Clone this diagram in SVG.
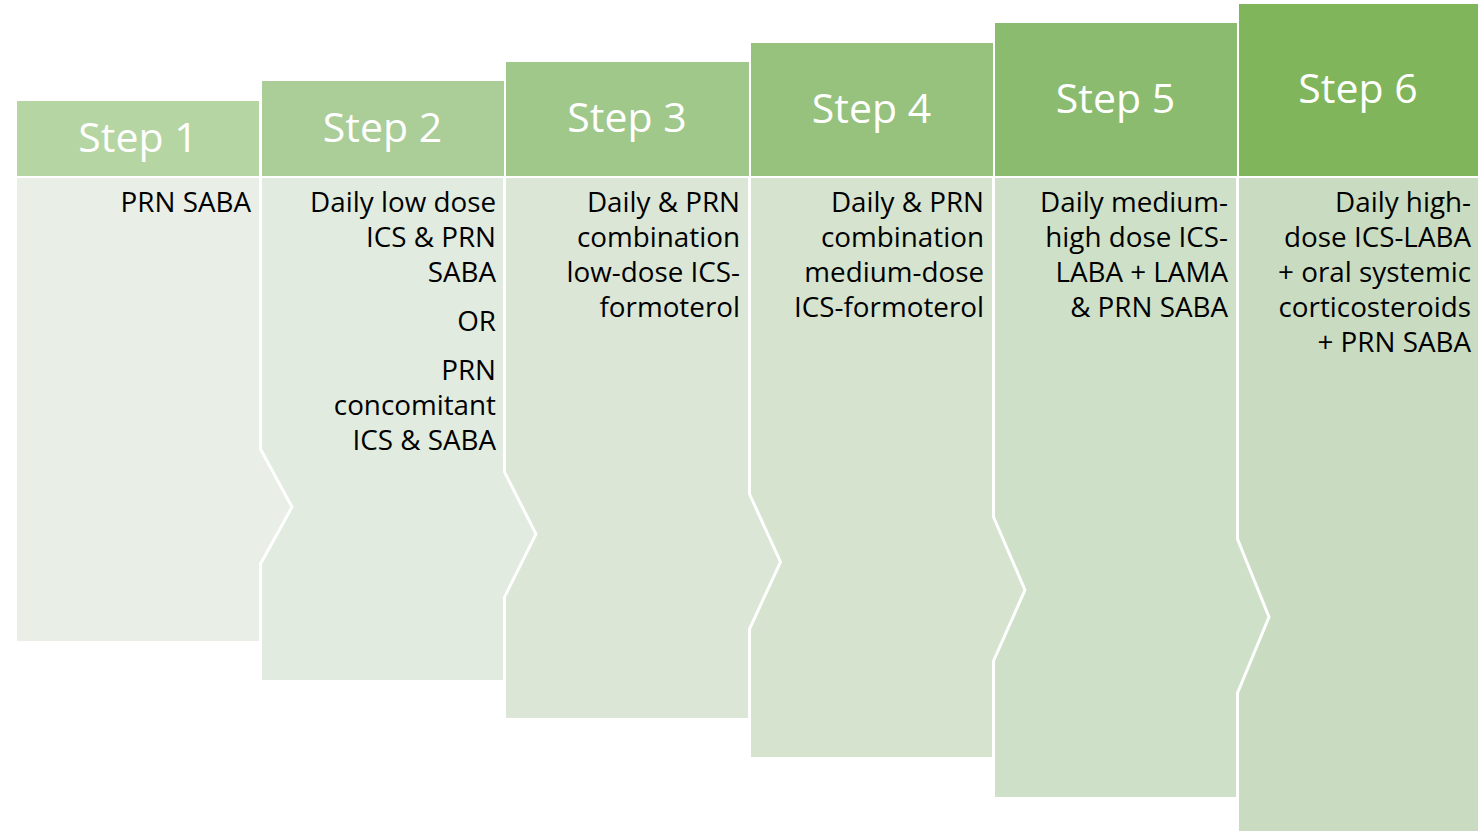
<svg xmlns="http://www.w3.org/2000/svg" width="1481" height="831" viewBox="0 0 1481 831">
<style>
.body{stroke:#ffffff;stroke-width:3;stroke-linejoin:miter}
.hdr{stroke:none}
.ht{font-family:"Open Sans","Liberation Sans",sans-serif;font-size:41px;fill:#ffffff;text-anchor:middle}
.bt{font-family:"Open Sans","Liberation Sans",sans-serif;font-size:27.8px;fill:#000000;text-anchor:end}
</style>
<rect width="1481" height="831" fill="#ffffff"/>
<g id="step6">
<polygon class="body" fill="#c9dcc2" points="1237.5,176.5 1479.5,176.5 1479.5,840 1237.5,840"/>
<rect class="hdr" fill="#80b55b" x="1239" y="4" width="239" height="172"/>
<text class="ht" x="1358" y="103">Step 6</text>
<text class="bt" x="1471"><tspan x="1471" y="212">Daily high-</tspan><tspan x="1471" y="247">dose ICS-LABA</tspan><tspan x="1471" y="282">+ oral systemic</tspan><tspan x="1471" y="317">corticosteroids</tspan><tspan x="1471" y="352">+ PRN SABA</tspan></text>
</g>
<g id="step5">
<polygon class="body" fill="#cfe0c8" points="993.5,176.5 1237.5,176.5 1237.5,539 1269,617 1237.5,693 1237.5,798.5 993.5,798.5"/>
<rect class="hdr" fill="#8bbb6f" x="995" y="23" width="242" height="153"/>
<text class="ht" x="1115.5" y="113">Step 5</text>
<text class="bt"><tspan x="1228" y="212">Daily medium-</tspan><tspan x="1228" y="247">high dose ICS-</tspan><tspan x="1228" y="282">LABA + LAMA</tspan><tspan x="1228" y="317">&amp; PRN SABA</tspan></text>
</g>
<g id="step4">
<polygon class="body" fill="#d5e3cf" points="749.5,176.5 993.5,176.5 993.5,517 1025,590 993.5,661 993.5,758.5 749.5,758.5"/>
<rect class="hdr" fill="#96c27e" x="751" y="43" width="242" height="133"/>
<text class="ht" x="871.5" y="123">Step 4</text>
<text class="bt"><tspan x="984" y="212">Daily &amp; PRN</tspan><tspan x="984" y="247">combination</tspan><tspan x="984" y="282">medium-dose</tspan><tspan x="984" y="317">ICS-formoterol</tspan></text>
</g>
<g id="step3">
<polygon class="body" fill="#dbe6d6" points="504.5,176.5 749.5,176.5 749.5,494 780.5,562 749.5,629 749.5,719.5 504.5,719.5"/>
<rect class="hdr" fill="#a0c88b" x="506" y="62" width="243" height="114"/>
<text class="ht" x="627" y="132">Step 3</text>
<text class="bt"><tspan x="740" y="212">Daily &amp; PRN</tspan><tspan x="740" y="247">combination</tspan><tspan x="740" y="282">low-dose ICS-</tspan><tspan x="740" y="317">formoterol</tspan></text>
</g>
<g id="step2">
<polygon class="body" fill="#e1ebdf" points="260.5,176.5 504.5,176.5 504.5,472 536,534 504.5,597 504.5,681.5 260.5,681.5"/>
<rect class="hdr" fill="#abcd98" x="262" y="81" width="242" height="95"/>
<text class="ht" x="382.5" y="142">Step 2</text>
<text class="bt"><tspan x="496" y="212">Daily low dose</tspan><tspan x="496" y="247">ICS &amp; PRN</tspan><tspan x="496" y="282">SABA</tspan><tspan x="496" y="331">OR</tspan><tspan x="496" y="380">PRN</tspan><tspan x="496" y="415">concomitant</tspan><tspan x="496" y="450">ICS &amp; SABA</tspan></text>
</g>
<g id="step1">
<polygon class="body" fill="#e9efe7" points="15.5,176.5 260.5,176.5 260.5,449 292,507 260.5,564 260.5,642.5 15.5,642.5"/>
<rect class="hdr" fill="#b5d5a3" x="17" y="101" width="242" height="75"/>
<text class="ht" x="138" y="152">Step 1</text>
<text class="bt"><tspan x="251" y="212">PRN SABA</tspan></text>
</g>
<g id="connectors"/>
</svg>
